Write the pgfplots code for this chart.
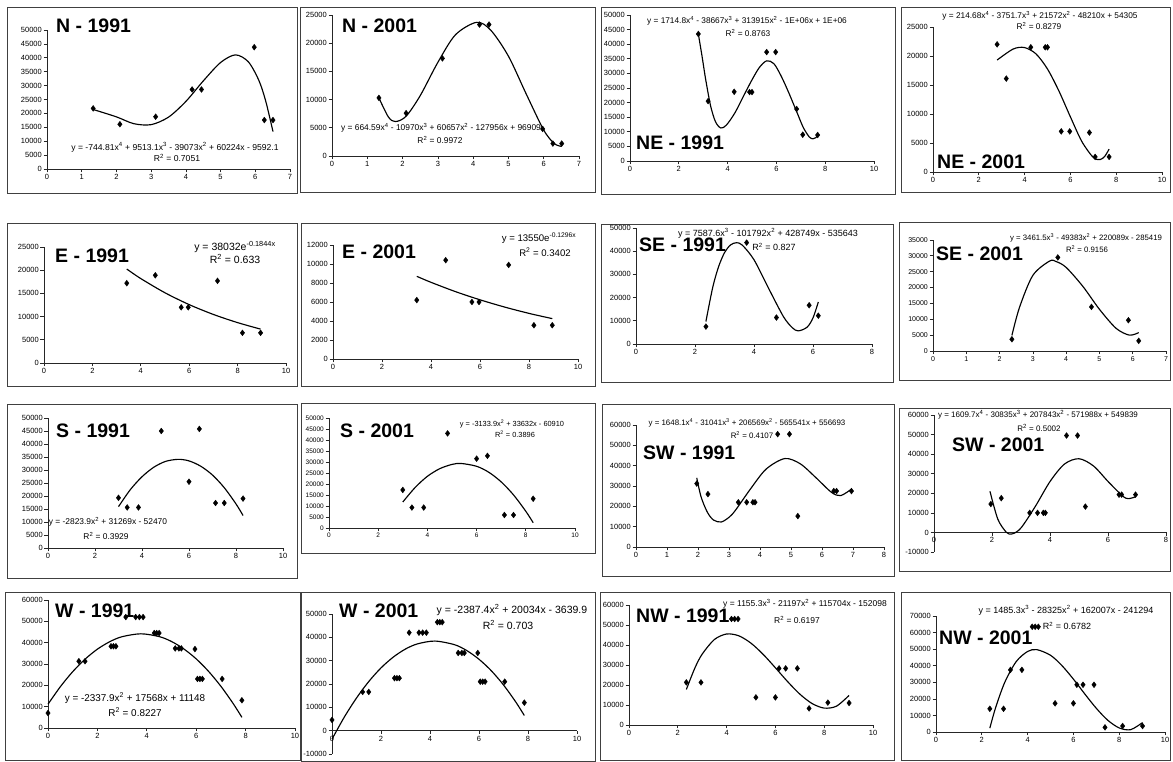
\documentclass[border=0pt]{standalone}
\usepackage{fontspec}
\setmainfont{Liberation Sans}
\usepackage{pgfplots}
\pgfplotsset{compat=1.18}

\newcommand\fs[1]{\fontsize{#1}{#1}\selectfont}

\pgfplotsset{
  panel/.style={
    scale only axis, anchor=south west, clip=false,
    axis x line*=bottom, axis y line*=left,
    axis line style={black!85, line width=0.7pt},
    tick style={black!85, line width=0.7pt},
    tick align=outside, major tick length=3.5pt,
    tick label style={font=\fs{7.5}, inner sep=1.5pt},
    /pgf/number format/1000 sep={},
    /pgf/number format/assume math mode=true,
    scaled ticks=false,
  },
  trend/.style={black, line width=1.15pt, smooth, no marks},
  pts/.style={black, only marks, mark=diamond*, mark size=2.9pt},
}
\tikzset{
  box/.style={draw=black!75, line width=0.8pt},
  ttl/.style={font=\fs{19.5}\bfseries, anchor=west, inner sep=0pt},
  eq/.style={font=\fs{#1}, inner sep=0pt},
}

\begin{document}
\begin{tikzpicture}[x=1pt, y=1pt]
\path[use as bounding box] (0,0) rectangle (1173,762);

% ---------- boxes ----------
\draw[box] (7,569) rectangle (297,755);
\draw[box] (300,570) rectangle (595,755);
\draw[box] (601,568) rectangle (895,755);
\draw[box] (901,570) rectangle (1170,755);
\draw[box] (7,376) rectangle (297,539);
\draw[box] (301,376) rectangle (595,539);
\draw[box] (601,380) rectangle (893,538);
\draw[box] (899,382) rectangle (1170,540);
\draw[box] (7,184) rectangle (297,358);
\draw[box] (301,209) rectangle (595,359);
\draw[box] (602,186) rectangle (894,358);
\draw[box] (899,191) rectangle (1170,354);
\draw[box] (5,2) rectangle (300,170);
\draw[box] (301,0.5) rectangle (595,170);
\draw[box] (600,2) rectangle (894,170);
\draw[box] (901,2) rectangle (1170,170);

% ---------- N - 1991 ----------
\begin{axis}[panel, at={(47pt,593pt)}, width=243pt, height=139pt,
  xmin=0, xmax=7, ymin=0, ymax=50000, xtick={0,...,7}, ytick={0,5000,...,50000}]
\addplot[trend] coordinates {(1.33,21400) (2,18750) (2.5,16300) (3,15950) (3.5,18650) (4,24300)
  (4.5,31650) (5,38300) (5.43,41050) (5.8,38550) (6.1,31950) (6.3,24450) (6.51,13450)};
\addplot[pts] coordinates {(1.33,21800) (2.1,16100) (3.13,18800) (4.18,28600) (4.45,28600)
  (5.97,43800) (6.26,17600) (6.51,17600)};
\end{axis}
\node[ttl] at (56,736) {N - 1991};
\node[eq=8.6] at (175,615) {y = -744.81x\textsuperscript{4} + 9513.1x\textsuperscript{3} - 39073x\textsuperscript{2} + 60224x - 9592.1};
\node[eq=8.6] at (177,604) {R\textsuperscript{2} = 0.7051};

% ---------- N - 2001 ----------
\begin{axis}[panel, at={(332pt,606pt)}, width=247pt, height=141pt,
  xmin=0, xmax=7, ymin=0, ymax=25000, xtick={0,...,7}, ytick={0,5000,...,25000}]
\addplot[trend] coordinates {(1.33,10300) (1.6,6900) (1.8,6100) (2.1,7050) (2.5,10700) (3,16600)
  (3.5,21500) (4.1,23700) (4.5,22300) (5,17700) (5.5,11050) (6,4600) (6.3,2200) (6.51,1700)};
\addplot[pts] coordinates {(1.33,10300) (2.1,7600) (3.13,17300) (4.18,23300) (4.45,23300)
  (5.97,4800) (6.26,2200) (6.51,2200)};
\end{axis}
\node[ttl] at (342,736) {N - 2001};
\node[eq=8.4] at (441,634) {y = 664.59x\textsuperscript{4} - 10970x\textsuperscript{3} + 60657x\textsuperscript{2} - 127956x + 96909};
\node[eq=8.4] at (440,622) {R\textsuperscript{2} = 0.9972};

% ---------- NE - 1991 ----------
\begin{axis}[panel, at={(630pt,601pt)}, width=244pt, height=146pt,
  xmin=0, xmax=10, ymin=0, ymax=50000, xtick={0,2,...,10}, ytick={0,5000,...,50000}]
\addplot[trend] coordinates {(2.8,43500) (2.95,36000) (3.1,28000) (3.3,19000) (3.5,13500)
  (3.72,11300) (3.95,12300) (4.3,16500) (4.7,23000) (5,27800) (5.3,32000) (5.6,34300)
  (5.9,33300) (6.2,29000) (6.5,23500) (6.85,16500) (7.1,11500) (7.35,8200) (7.5,7600)
  (7.62,8000) (7.7,9000)};
\addplot[pts] coordinates {(2.8,43500) (3.2,20500) (4.27,23700) (4.9,23600) (5.0,23600)
  (5.6,37300) (5.97,37300) (6.83,17800) (7.08,9000) (7.69,8900)};
\end{axis}
\node[ttl] at (636,619) {NE - 1991};
\node[eq=8.3] at (747,741) {y = 1714.8x\textsuperscript{4} - 38667x\textsuperscript{3} + 313915x\textsuperscript{2} - 1E+06x + 1E+06};
\node[eq=8.3] at (748,729) {R\textsuperscript{2} = 0.8763};

% ---------- NE - 2001 ----------
\begin{axis}[panel, at={(933pt,590pt)}, width=229pt, height=145pt,
  xmin=0, xmax=10, ymin=0, ymax=25000, xtick={0,2,...,10}, ytick={0,5000,...,25000}]
\addplot[trend] coordinates {(2.8,19300) (3.5,21200) (4,21450) (4.5,20350) (5,17750) (5.5,13950)
  (6,9500) (6.5,5250) (7,2500) (7.3,2150) (7.5,2700) (7.69,3950)};
\addplot[pts] coordinates {(2.8,22000) (3.2,16100) (4.27,21500) (4.9,21500) (5.0,21500)
  (5.6,7000) (5.97,7000) (6.83,6800) (7.08,2600) (7.69,2600)};
\end{axis}
\node[ttl] at (937,600) {NE - 2001};
\node[eq=8.3] at (1040,746) {y = 214.68x\textsuperscript{4} - 3751.7x\textsuperscript{3} + 21572x\textsuperscript{2} - 48210x + 54305};
\node[eq=8.3] at (1039,736) {R\textsuperscript{2} = 0.8279};

% ---------- E - 1991 ----------
\begin{axis}[panel, at={(44pt,399pt)}, width=242pt, height=116pt,
  xmin=0, xmax=10, ymin=0, ymax=25000, xtick={0,2,...,10}, ytick={0,5000,...,25000}]
\addplot[trend] coordinates {(3.42,20250) (4,18190) (5,15130) (6,12580) (7,10460) (8,8700) (8.95,7300)};
\addplot[pts] coordinates {(3.42,17200) (4.6,18900) (5.67,12000) (5.96,12000) (7.17,17700)
  (8.2,6500) (8.95,6500)};
\end{axis}
\node[ttl] at (55,506) {E - 1991};
\node[eq=10.5] at (235,515) {y = 38032e\textsuperscript{-0.1844x}};
\node[eq=10.5] at (235,503) {R\textsuperscript{2} = 0.633};

% ---------- E - 2001 ----------
\begin{axis}[panel, at={(333pt,403pt)}, width=245pt, height=114pt,
  xmin=0, xmax=10, ymin=0, ymax=12000, xtick={0,2,...,10}, ytick={0,2000,...,12000}]
\addplot[trend] coordinates {(3.42,8700) (4,8070) (5,7090) (6,6230) (7,5470) (8,4800) (8.95,4250)};
\addplot[pts] coordinates {(3.42,6200) (4.6,10400) (5.67,6000) (5.96,6000) (7.17,9900)
  (8.2,3550) (8.95,3550)};
\end{axis}
\node[ttl] at (342,510) {E - 2001};
\node[eq=9.6] at (539,524) {y = 13550e\textsuperscript{-0.1296x}};
\node[eq=9.6] at (545,510) {R\textsuperscript{2} = 0.3402};

% ---------- SE - 1991 ----------
\begin{axis}[panel, at={(636pt,418pt)}, width=236pt, height=116pt,
  xmin=0, xmax=8, ymin=0, ymax=50000, xtick={0,2,...,8}, ytick={0,10000,...,50000}]
\addplot[trend] coordinates {(2.37,9700) (2.6,24350) (2.8,33350) (3,39350) (3.2,42650) (3.4,43650)
  (3.6,42650) (4,36300) (4.5,23850) (5,11750) (5.3,7000) (5.5,5650) (5.8,7250) (6,11250) (6.18,18100)};
\addplot[pts] coordinates {(2.37,7500) (3.75,43700) (4.76,11400) (5.87,16700) (6.18,12200)};
\end{axis}
\node[ttl] at (639,517) {SE - 1991};
\node[eq=9.0] at (768,529) {y = 7587.6x\textsuperscript{3} - 101792x\textsuperscript{2} + 428749x - 535643};
\node[eq=9.0] at (774,515) {R\textsuperscript{2} = 0.827};

% ---------- SE - 2001 ----------
\begin{axis}[panel, at={(933pt,411pt)}, width=233pt, height=111pt,
  xmin=0, xmax=7, ymin=0, ymax=35000, xtick={0,...,7}, ytick={0,5000,...,35000},
  tick label style={font=\fs{7}}]
\addplot[trend] coordinates {(2.37,4900) (2.6,13800) (3,23850) (3.5,28350) (3.7,28200) (4,26350)
  (4.5,20400) (5,13150) (5.5,7150) (5.9,5000) (6.18,5800)};
\addplot[pts] coordinates {(2.37,3700) (3.75,29500) (4.76,13900) (5.87,9700) (6.18,3200)};
\end{axis}
\node[ttl] at (936,508) {SE - 2001};
\node[eq=7.8] at (1086,524) {y = 3461.5x\textsuperscript{3} - 49383x\textsuperscript{2} + 220089x - 285419};
\node[eq=7.8] at (1087,513) {R\textsuperscript{2} = 0.9156};

% ---------- S - 1991 ----------
\begin{axis}[panel, at={(48pt,214pt)}, width=235pt, height=130pt,
  xmin=0, xmax=10, ymin=0, ymax=50000, xtick={0,2,...,10}, ytick={0,5000,...,50000}]
\addplot[trend] coordinates {(3,15900) (3.5,22400) (4,27400) (4.5,31050) (5,33300) (5.54,34100)
  (6,33500) (6.5,31450) (7,28050) (7.5,23200) (8,16950) (8.3,12500)};
\addplot[pts] coordinates {(3.0,19300) (3.37,15600) (3.85,15600) (4.82,45000) (6.0,25500)
  (6.44,45800) (7.13,17300) (7.5,17300) (8.3,19000)};
\end{axis}
\node[ttl] at (56,331) {S - 1991};
\node[eq=8.4] at (108,240) {y = -2823.9x\textsuperscript{2} + 31269x - 52470};
\node[eq=8.4] at (106,226) {R\textsuperscript{2} = 0.3929};

% ---------- S - 2001 ----------
\begin{axis}[panel, at={(329pt,234pt)}, width=246pt, height=110pt,
  xmin=0, xmax=10, ymin=0, ymax=50000, xtick={0,2,...,10}, ytick={0,5000,...,50000},
  tick label style={font=\fs{6.5}}]
\addplot[trend] coordinates {(3,11800) (3.5,18400) (4,23500) (4.5,26950) (5,28900) (5.37,29330)
  (6,28050) (6.5,25300) (7,20950) (7.5,15050) (8,7600) (8.3,2400)};
\addplot[pts] coordinates {(3.0,17300) (3.37,9300) (3.85,9300) (4.82,43000) (6.0,31500)
  (6.44,32800) (7.13,5900) (7.5,5900) (8.3,13300)};
\end{axis}
\node[ttl] at (340,331) {S - 2001};
\node[eq=7.4] at (512,338) {y = -3133.9x\textsuperscript{2} + 33632x - 60910};
\node[eq=7.4] at (515,328) {R\textsuperscript{2} = 0.3896};

% ---------- SW - 1991 ----------
\begin{axis}[panel, at={(636pt,215pt)}, width=248pt, height=122pt,
  xmin=0, xmax=8, ymin=0, ymax=60000, xtick={0,...,8}, ytick={0,10000,...,60000}]
\addplot[trend] coordinates {(1.96,34000) (2.1,24600) (2.3,17150) (2.5,13250) (2.75,12300)
  (3,14600) (3.2,17900) (3.7,28700) (4.2,38350) (4.8,43500) (5.3,40900) (5.8,34150)
  (6.3,26950) (6.6,25250) (6.95,28500)};
\addplot[pts] coordinates {(1.96,31200) (2.32,26000) (3.3,22000) (3.57,22000) (3.77,22000)
  (3.84,22000) (4.57,55500) (4.95,55500) (5.22,15200) (6.38,27500) (6.47,27500) (6.95,27500)};
\end{axis}
\node[ttl] at (643,309) {SW - 1991};
\node[eq=7.9] at (747,339) {y = 1648.1x\textsuperscript{4} - 31041x\textsuperscript{3} + 206569x\textsuperscript{2} - 565541x + 556693};
\node[eq=7.9] at (752,327) {R\textsuperscript{2} = 0.4107};

% ---------- SW - 2001 ----------
\begin{axis}[panel, at={(934pt,210pt)}, width=232pt, height=137pt,
  axis x line*=middle, hide obscured x ticks=false, hide obscured y ticks=false,
  xmin=0, xmax=8, ymin=-10000, ymax=60000, xtick={0,2,...,8}, ytick={-10000,0,...,60000},
  yticklabels={-10000,0,10000,20000,30000,40000,50000,60000}]
\addplot[trend] coordinates {(1.93,21000) (2.2,6800) (2.5,0) (2.7,-750) (3,2300) (3.5,13450)
  (4,26000) (4.5,34950) (5,37650) (5.5,33950) (6,26050) (6.5,18650) (6.7,17250) (6.95,18200)};
\addplot[pts] coordinates {(1.96,14500) (2.32,17500) (3.3,10000) (3.57,10000) (3.77,10000)
  (3.84,10000) (4.57,49500) (4.95,49500) (5.22,13200) (6.38,19300) (6.47,19300) (6.95,19300)};
\end{axis}
\node[ttl] at (952,317) {SW - 2001};
\node[eq=8.0] at (1038,347) {y = 1609.7x\textsuperscript{4} - 30835x\textsuperscript{3} + 207843x\textsuperscript{2} - 571988x + 549839};
\node[eq=8.0] at (1039,334) {R\textsuperscript{2} = 0.5002};

% ---------- W - 1991 ----------
\begin{axis}[panel, at={(48pt,34pt)}, width=247pt, height=128pt,
  xmin=0, xmax=10, ymin=0, ymax=60000, xtick={0,2,...,10}, ytick={0,10000,...,60000}]
\addplot[trend] coordinates {(0,11150) (0.5,19350) (1,26400) (1.5,32250) (2,36950) (2.5,40450)
  (3,42800) (3.76,44150) (4.5,42850) (5,40550) (5.5,37050) (6,32400) (6.5,26550) (7,19550)
  (7.5,11400) (7.85,5000)};
\addplot[pts] coordinates {(0,7000) (1.25,31300) (1.5,31300) (2.55,38300) (2.65,38300)
  (2.75,38300) (3.15,52000) (3.55,52000) (3.7,52000) (3.85,52000) (4.3,44500) (4.4,44500)
  (4.5,44500) (5.15,37300) (5.3,37300) (5.4,37300) (5.95,37000) (6.05,23000) (6.15,23000)
  (6.25,23000) (7.05,23000) (7.85,13000)};
\end{axis}
\node[ttl] at (55,151) {W - 1991};
\node[eq=9.9] at (135,64) {y = -2337.9x\textsuperscript{2} + 17568x + 11148};
\node[eq=9.9] at (135,50) {R\textsuperscript{2} = 0.8227};

% ---------- W - 2001 ----------
\begin{axis}[panel, at={(332pt,8pt)}, width=245pt, height=140pt,
  axis x line*=middle, hide obscured x ticks=false, hide obscured y ticks=false,
  xmin=0, xmax=10, ymin=-10000, ymax=50000, xtick={0,2,...,10}, ytick={-10000,0,...,50000},
  yticklabels={-10000,0,10000,20000,30000,40000,50000}]
\addplot[trend] coordinates {(0,-3640) (0.5,5780) (1,14000) (1.5,21040) (2,26900) (2.5,31520)
  (3,35000) (3.5,37230) (4.2,38400) (5,36850) (5.5,34330) (6,30600) (6.5,25700) (7,19600)
  (7.5,12300) (7.85,6500)};
\addplot[pts] coordinates {(0,4600) (1.25,16600) (1.5,16600) (2.55,22500) (2.65,22500)
  (2.75,22500) (3.15,42000) (3.55,42000) (3.7,42000) (3.85,42000) (4.3,46500) (4.4,46500)
  (4.5,46500) (5.15,33300) (5.3,33300) (5.4,33300) (5.95,33300) (6.05,21000) (6.15,21000)
  (6.25,21000) (7.05,21000) (7.85,12000)};
\end{axis}
\node[ttl] at (339,151) {W - 2001};
\node[eq=10.5] at (512,152) {y = -2387.4x\textsuperscript{2} + 20034x - 3639.9};
\node[eq=10.5] at (508,137) {R\textsuperscript{2} = 0.703};

% ---------- NW - 1991 ----------
\begin{axis}[panel, at={(629pt,37pt)}, width=244pt, height=120pt,
  xmin=0, xmax=10, ymin=0, ymax=60000, xtick={0,2,...,10}, ytick={0,10000,...,60000}]
\addplot[trend] coordinates {(2.35,17750) (2.7,28500) (3,35450) (3.5,42750) (4,45500) (4.5,44600)
  (5,40900) (5.5,35300) (6,28600) (6.5,21700) (7,15450) (7.5,10750) (8,8450) (8.5,9400) (9.02,14800)};
\addplot[pts] coordinates {(2.35,21300) (2.95,21300) (4.2,53000) (4.33,53000) (4.47,53000)
  (5.2,13800) (6.0,13800) (6.15,28300) (6.42,28300) (6.9,28300) (7.38,8300) (8.15,11200) (9.02,11000)};
\end{axis}
\node[ttl] at (636,146) {NW - 1991};
\node[eq=8.5] at (805,158) {y = 1155.3x\textsuperscript{3} - 21197x\textsuperscript{2} + 115704x - 152098};
\node[eq=8.5] at (797,142) {R\textsuperscript{2} = 0.6197};

% ---------- NW - 2001 ----------
\begin{axis}[panel, at={(936pt,30pt)}, width=229pt, height=116pt,
  xmin=0, xmax=10, ymin=0, ymax=70000, xtick={0,2,...,10}, ytick={0,10000,...,70000}]
\addplot[trend] coordinates {(2.35,2300) (2.6,14550) (3,29900) (3.5,42450) (4,48600) (4.4,49700)
  (5,46300) (5.5,40050) (6,31900) (6.5,22900) (7,14300) (7.5,7100) (8,2450) (8.5,1400) (9.02,5700)};
\addplot[pts] coordinates {(2.35,14000) (2.95,14000) (3.25,37500) (3.75,37500) (4.2,63500)
  (4.33,63500) (4.47,63500) (5.2,17300) (6.0,17300) (6.15,28500) (6.42,28500) (6.9,28500)
  (7.38,2800) (8.15,3600) (9.02,3600)};
\end{axis}
\node[ttl] at (939,124) {NW - 2001};
\node[eq=9.0] at (1066,152) {y = 1485.3x\textsuperscript{3} - 28325x\textsuperscript{2} + 162007x - 241294};
\node[eq=9.0] at (1067,136) {R\textsuperscript{2} = 0.6782};

\end{tikzpicture}
\end{document}
